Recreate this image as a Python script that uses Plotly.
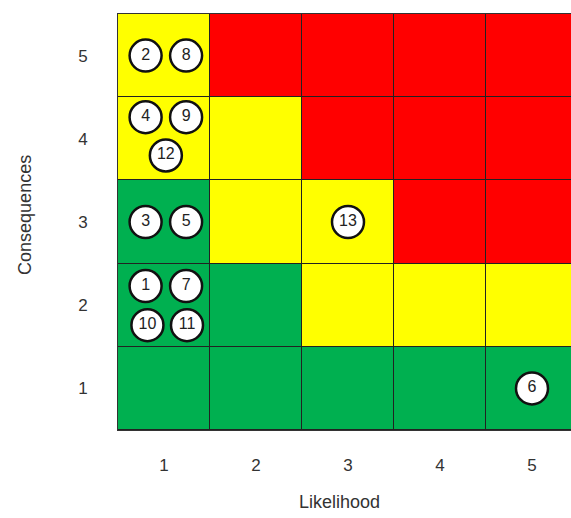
import plotly.graph_objects as go

# Risk matrix axes
likelihood = [1, 2, 3, 4, 5]
consequences = [1, 2, 3, 4, 5]

# Rating of each cell (0 = low, 1 = medium, 2 = high), rows ordered by consequence 1..5
ratings = [
    [0, 0, 0, 0, 0],
    [0, 0, 1, 1, 1],
    [0, 1, 1, 2, 2],
    [1, 1, 2, 2, 2],
    [1, 2, 2, 2, 2],
]

# Individual risks
risk_ids = [2, 8, 4, 9, 12, 3, 5, 1, 7, 10, 11, 13, 6]
risk_likelihood = [1, 1, 1, 1, 1, 1, 1, 1, 1, 1, 1, 3, 5]
risk_consequence = [5, 5, 4, 4, 4, 3, 3, 2, 2, 2, 2, 3, 1]

GREEN, YELLOW, RED = "#00B050", "#FFFF00", "#FF0000"

# Arrange markers that share a cell so they don't overlap
layouts = {
    1: [(0, 0)],
    2: [(-0.2, 0), (0.24, 0)],
    3: [(-0.2, 0.26), (0.24, 0.26), (0.02, -0.2)],
    4: [(-0.2, 0.23), (0.24, 0.23), (-0.18, -0.24), (0.25, -0.24)],
}
cells = {}
for i, (lx, cy) in enumerate(zip(risk_likelihood, risk_consequence)):
    cells.setdefault((lx, cy), []).append(i)
px, py, labels = [], [], []
for (lx, cy), idx in cells.items():
    for k, i in enumerate(idx):
        dx, dy = layouts[len(idx)][k]
        px.append(lx + dx)
        py.append(cy + dy)
        labels.append(str(risk_ids[i]))

fig = go.Figure()
fig.add_trace(go.Heatmap(
    x=likelihood, y=consequences, z=ratings,
    colorscale=[[0, GREEN], [0.333, GREEN], [0.333, YELLOW], [0.667, YELLOW],
                [0.667, RED], [1, RED]],
    zmin=0, zmax=2, showscale=False, xgap=1, ygap=1, hoverinfo="skip",
))
fig.add_trace(go.Scatter(
    x=px, y=py, text=labels, mode="markers+text",
    marker=dict(size=32, color="white", line=dict(color="#111111", width=2.5)),
    textposition="middle center",
    textfont=dict(family="Liberation Sans, Arial", size=16, color="#222222"),
    hoverinfo="skip", showlegend=False,
))

tick_font = dict(family="Liberation Sans, Arial", size=17, color="#333333")
fig.update_layout(
    width=571, height=518,
    margin=dict(l=118, r=0, t=14, b=88),
    paper_bgcolor="white", plot_bgcolor="#222222",
    showlegend=False,
    xaxis=dict(range=[0.5, 5.424], tickvals=likelihood, ticktext=[str(v) for v in likelihood],
               showgrid=False, zeroline=False, tickfont=tick_font, ticklabelstandoff=20,
               showline=True, linecolor="#333333", linewidth=1, mirror=True, fixedrange=True),
    yaxis=dict(range=[0.5, 5.5], tickvals=consequences, ticktext=[str(v) for v in consequences],
               showgrid=False, zeroline=False, tickfont=tick_font, ticklabelstandoff=26,
               showline=True, linecolor="#333333", linewidth=1, mirror=True, fixedrange=True),
    annotations=[
        dict(text="Likelihood", xref="paper", yref="paper", x=0.49, y=-0.173,
             xanchor="center", yanchor="middle", showarrow=False,
             font=dict(family="Liberation Sans, Arial", size=18, color="#333333")),
        dict(text="Consequences", xref="paper", yref="paper", x=0, y=0.517, xshift=-93,
             xanchor="center", yanchor="middle", textangle=-90, showarrow=False,
             font=dict(family="Liberation Sans, Arial", size=18, color="#333333")),
    ],
)

fig.write_html("out.html", config={"displayModeBar": False})
